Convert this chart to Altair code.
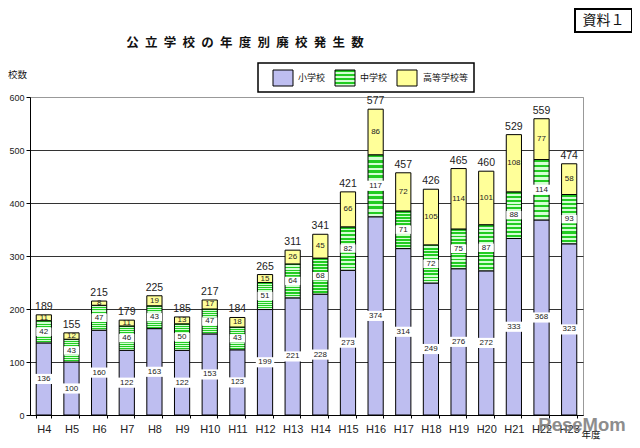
import altair as alt
import pandas as pd

years = ["H4", "H5", "H6", "H7", "H8", "H9", "H10", "H11", "H12", "H13",
         "H14", "H15", "H16", "H17", "H18", "H19", "H20", "H21", "H22", "H23"]
elementary = [136, 100, 160, 122, 163, 122, 153, 123, 199, 221,
              228, 273, 374, 314, 249, 276, 272, 333, 368, 323]
junior_high = [42, 43, 47, 46, 43, 50, 47, 43, 51, 64,
               68, 82, 117, 71, 72, 75, 87, 88, 114, 93]
high_school = [11, 12, 8, 11, 19, 13, 17, 18, 15, 26,
               45, 66, 86, 72, 105, 114, 101, 108, 77, 58]
series_names = ["小学校", "中学校", "高等学校等"]
y_ticks = [0, 100, 200, 300, 400, 500, 600]

rows = []
for i, yr in enumerate(years):
    base = 0
    for name, vals in zip(series_names, [elementary, junior_high, high_school]):
        v = vals[i]
        rows.append({"year": yr, "type": name, "value": v,
                     "y0": base, "y1": base + v, "mid": base + v / 2})
        base += v
seg = pd.DataFrame(rows)
tot = pd.DataFrame({"year": years,
                    "total": [a + b + c for a, b, c in zip(elementary, junior_high, high_school)]})
one = pd.DataFrame({"k": [0]})

NUM_FONT = "Liberation Sans"
JP_FONT = "Noto Sans CJK JP"
BLUE = "#bebef0"
YELLOW = "#ffff99"
G_DARK = "#22cc22"
G_LIGHT = "#d4ffd4"

N = 12
stops = []
for i in range(N):
    stops += [{"offset": i / N, "color": G_DARK},
              {"offset": (i + 0.5) / N, "color": G_DARK},
              {"offset": (i + 0.5) / N, "color": G_LIGHT},
              {"offset": (i + 1) / N, "color": G_LIGHT}]
GREEN_GRAD = {"gradient": "linear", "x1": 0, "y1": 0, "x2": 0, "y2": 1, "stops": stops}

x_enc = alt.X("year:N", sort=years,
              scale=alt.Scale(paddingInner=0.45, paddingOuter=0.225),
              axis=alt.Axis(title=None, labelAngle=0, labelFontSize=11, labelFont=NUM_FONT,
                            labelColor="#222", tickBand="extent", tickSize=3, tickColor="#000",
                            domainColor="#000", labelPadding=5, grid=False))
y_scale = alt.Scale(domain=[0, 600], nice=False)
y_axis = alt.Axis(title=None, values=y_ticks, grid=True,
                  gridColor={"condition": {"test": "datum.value === 600", "value": "#999999"},
                             "value": "#333333"},
                  gridWidth=1, domainColor="#000", tickColor="#000", tickSize=4,
                  labelFontSize=9, labelFont=NUM_FONT, labelColor="#222", labelPadding=2)

base = alt.Chart(seg)

def bars(name, fill):
    return base.transform_filter(alt.datum.type == name).mark_bar(
        fill=fill, stroke="#000", strokeWidth=1).encode(
        x=x_enc,
        y=alt.Y("y0:Q", scale=y_scale, axis=y_axis),
        y2="y1:Q")

b_elem = bars("小学校", BLUE)
b_jun = bars("中学校", GREEN_GRAD)
b_high = bars("高等学校等", YELLOW)

boxes = base.transform_filter(alt.datum.type != "高等学校等").transform_calculate(
    bs="datum.value >= 100 ? 340 : 230").mark_point(
    shape="M-1,-0.55L1,-0.55L1,0.55L-1,0.55Z", filled=True, fill="white",
    opacity=1, strokeWidth=0).encode(
    x=x_enc, y=alt.Y("mid:Q", scale=y_scale), size=alt.Size("bs:Q", scale=None, legend=None))

seg_text = base.mark_text(fontSize=8, font=NUM_FONT, color="#222").encode(
    x=x_enc, y=alt.Y("mid:Q", scale=y_scale), text="value:Q")

tot_text = alt.Chart(tot).mark_text(fontSize=10.5, font=NUM_FONT, color="#222",
                                    baseline="bottom", dy=-3).encode(
    x=x_enc, y=alt.Y("total:Q", scale=y_scale), text="total:Q")

d = alt.Chart(one)
title_txt = "\u2002".join(list("公立学校の年度別廃校発生数"))
title = d.mark_text(text=title_txt, font=JP_FONT, fontSize=12.5,
                    fontWeight="bold", color="#111").encode(x=alt.value(215), y=alt.value(-54))
doc_box = d.mark_rect(fill="white", stroke="#000", strokeWidth=2).encode(
    x=alt.value(545), x2=alt.value(602), y=alt.value(-88), y2=alt.value(-65))
doc_text = d.mark_text(text="資料１", font=JP_FONT, fontSize=14, color="#111").encode(
    x=alt.value(573.5), y=alt.value(-76.5))
leg_box = d.mark_rect(fill="white", stroke="#000", strokeWidth=1.5).encode(
    x=alt.value(228), x2=alt.value(444), y=alt.value(-34), y2=alt.value(-5))

def swatch(x0, fill):
    return d.mark_rect(fill=fill, stroke="#000", strokeWidth=1).encode(
        x=alt.value(x0), x2=alt.value(x0 + 20), y=alt.value(-27), y2=alt.value(-11))

def leg_label(x0, txt):
    return d.mark_text(text=txt, font=JP_FONT, fontSize=9, align="left", color="#111").encode(
        x=alt.value(x0), y=alt.value(-19))

unit_y = d.mark_text(text="校数", font=JP_FONT, fontSize=9.5, align="left", color="#111").encode(
    x=alt.value(-22), y=alt.value(-22))
unit_x = d.mark_text(text="年度", font=JP_FONT, fontSize=9.5, color="#111",
                     baseline="bottom").encode(x=alt.value(561), y=alt.value(343))
mark_wm = d.mark_text(text="ReseMom", font=NUM_FONT,
                      fontSize=18.5, fontWeight="bold", baseline="alphabetic",
                      color="#7a7a7a", opacity=0.85).encode(x=alt.value(552), y=alt.value(334))

chart = alt.layer(
    b_elem, b_jun, b_high, boxes, seg_text, tot_text,
    title, doc_box, doc_text, leg_box,
    swatch(243, BLUE), leg_label(268, series_names[0]),
    swatch(305, GREEN_GRAD), leg_label(330, series_names[1]),
    swatch(367, YELLOW), leg_label(393, series_names[2]),
    unit_y, unit_x, mark_wm
).properties(
    width=553, height=318,
    autosize=alt.AutoSizeParams(type="none"),
    padding={"left": 22, "top": 89, "right": 49, "bottom": 25}
).configure_view(stroke="#999999", strokeWidth=1)

chart.save("out.html", embed_options={"renderer": "svg", "actions": False})
